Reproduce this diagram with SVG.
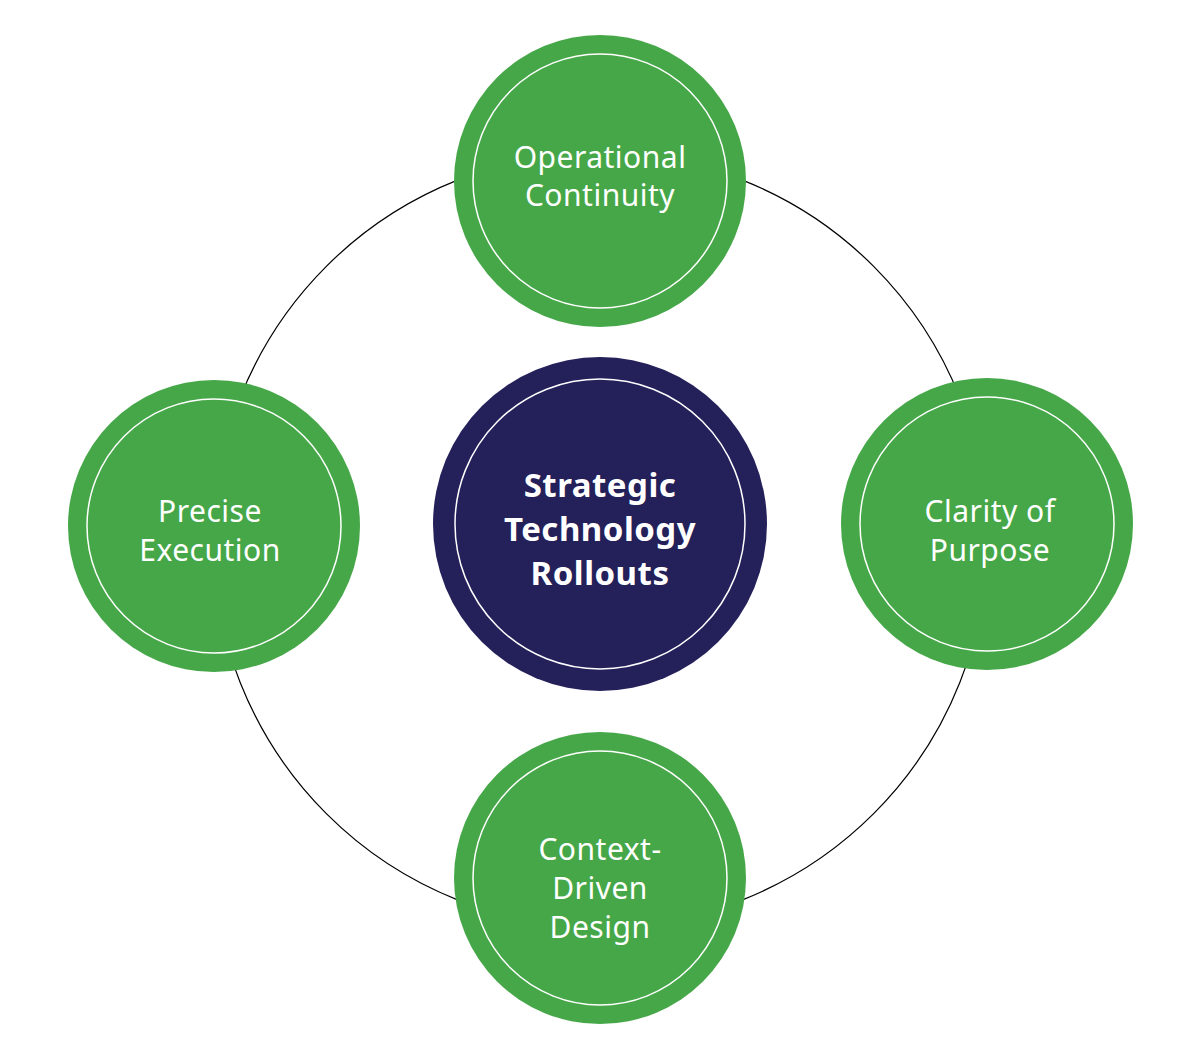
<svg xmlns="http://www.w3.org/2000/svg" width="1200" height="1059" viewBox="0 0 1200 1059">
<style>
.g{fill:#46a748}.n{fill:#23205a}.ring{fill:none;stroke:#fff;stroke-width:1.5}
.t{font-family:"Noto Sans","Liberation Sans",sans-serif;font-size:30px;fill:#fff;text-anchor:middle;letter-spacing:0.5px}
.b{font-weight:bold;font-size:33px}
</style>
<rect width="1200" height="1059" fill="#fff"/>
<g id="connectors"><circle cx="600" cy="540" r="387" fill="none" stroke="#000" stroke-width="1.2"/></g>
<g id="center"><circle class="n" cx="600" cy="524" r="167"/><circle class="ring" cx="600" cy="524" r="145"/>
<text class="t b" x="600" y="497">Strategic</text><text class="t b" x="600" y="541">Technology</text><text class="t b" x="600" y="585">Rollouts</text></g>
<g id="top"><circle class="g" cx="600" cy="181" r="146"/><circle class="ring" cx="600" cy="181" r="127"/>
<text class="t" x="600" y="168">Operational</text><text class="t" x="600" y="206">Continuity</text></g>
<g id="left"><circle class="g" cx="214" cy="526" r="146"/><circle class="ring" cx="214" cy="526" r="127"/>
<text class="t" x="210" y="522">Precise</text><text class="t" x="210" y="561">Execution</text></g>
<g id="right"><circle class="g" cx="987" cy="524" r="146"/><circle class="ring" cx="987" cy="524" r="127"/>
<text class="t" x="990" y="522">Clarity of</text><text class="t" x="990" y="561">Purpose</text></g>
<g id="bottom"><circle class="g" cx="600" cy="878" r="146"/><circle class="ring" cx="600" cy="878" r="127"/>
<text class="t" x="600" y="860">Context-</text><text class="t" x="600" y="899">Driven</text><text class="t" x="600" y="938">Design</text></g>
</svg>
